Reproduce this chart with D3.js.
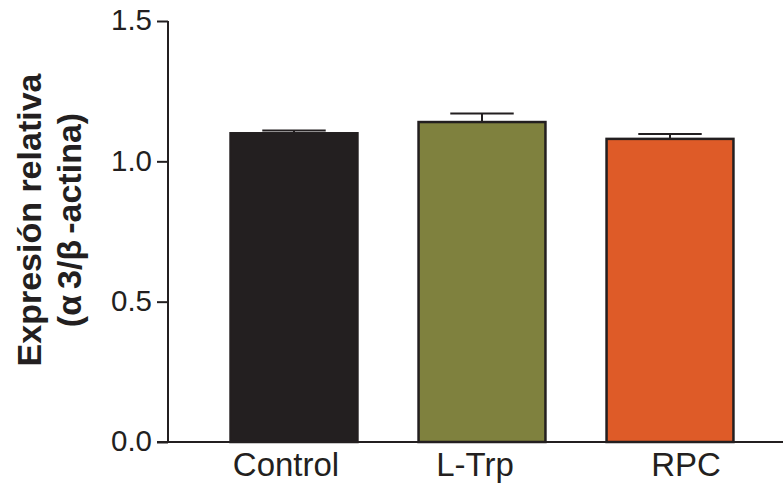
<!DOCTYPE html>
<html>
<head>
<meta charset="utf-8">
<script src="https://cdn.jsdelivr.net/npm/d3@7"></script>
<style>
  html, body { margin: 0; padding: 0; background: #fff; }
  svg { display: block; }
</style>
</head>
<body>
<svg id="chart" width="783" height="484"></svg>
<script>
const categories = ["Control", "L-Trp", "RPC"];
const means = [1.10, 1.14, 1.08];
const errors = [0.01, 0.03, 0.017];
const barColors = ["#231f20", "#7f813e", "#de5b28"];
const yTicks = [0.0, 0.5, 1.0, 1.5];
const yTickLabels = ["0.0", "0.5", "1.0", "1.5"];

const svg = d3.select("#chart");
const ink = "#231f20";
const font = "'Liberation Sans', Arial, Helvetica, sans-serif";

const y = d3.scaleLinear().domain([0, 1.5]).range([442, 21]);
const x = d3.scaleBand().domain(categories).range([200, 764])
  .paddingInner(0.325).paddingOuter(0.1625);

// y axis
const yAxis = d3.axisLeft(y).tickValues(yTicks)
  .tickFormat((d, i) => yTickLabels[i]).tickSize(11).tickPadding(5);
const gy = svg.append("g").attr("transform", "translate(168,0)").call(yAxis);
gy.select(".domain").remove();
gy.selectAll(".tick line").attr("stroke", ink).attr("stroke-width", 2);
gy.selectAll(".tick text").attr("fill", ink).style("font-family", font).style("font-size", "29.5px")
  .attr("dy", "0.30em");
gy.append("line").attr("x1", 0).attr("x2", 0).attr("y1", y(1.5)).attr("y2", y(0))
  .attr("stroke", ink).attr("stroke-width", 2);

// bars
const g = svg.append("g");
g.selectAll("rect.bar").data(categories).enter().append("rect")
  .attr("class", "bar")
  .attr("x", d => x(d))
  .attr("width", x.bandwidth())
  .attr("y", (d, i) => y(means[i]))
  .attr("height", (d, i) => y(0) - y(means[i]))
  .attr("fill", (d, i) => barColors[i])
  .attr("stroke", ink).attr("stroke-width", 2.5);

// error bars
categories.forEach((c, i) => {
  const cx = x(c) + x.bandwidth() / 2;
  const capW = x.bandwidth() / 2;
  g.append("line").attr("x1", cx).attr("x2", cx)
    .attr("y1", y(means[i])).attr("y2", y(means[i] + errors[i]))
    .attr("stroke", ink).attr("stroke-width", 2);
  g.append("line").attr("x1", cx - capW / 2).attr("x2", cx + capW / 2)
    .attr("y1", y(means[i] + errors[i])).attr("y2", y(means[i] + errors[i]))
    .attr("stroke", ink).attr("stroke-width", 2);
});

// x axis (labels slightly nudged as in the original figure)
const labelNudge = [-8, -7, 16];
const xAxis = d3.axisBottom(x).tickSize(0);
const gx = svg.append("g").attr("transform", `translate(0,${y(0)})`).call(xAxis);
gx.select(".domain").remove();
gx.selectAll(".tick text").attr("fill", ink).style("font-family", font).style("font-size", "33px")
  .attr("y", 34).attr("dy", 0)
  .attr("dx", (d, i) => labelNudge[i]);
svg.append("line").attr("x1", 157).attr("x2", 783).attr("y1", y(0)).attr("y2", y(0))
  .attr("stroke", ink).attr("stroke-width", 2);

// y title
const title = svg.append("text")
  .attr("transform", "translate(0,220) rotate(-90)")
  .attr("text-anchor", "middle")
  .attr("fill", ink)
  .style("font-family", font).style("font-weight", "bold").style("font-size", "34px");
title.append("tspan").attr("x", 0).attr("y", 41).text("Expresión relativa");
const line2 = title.append("tspan").attr("x", 0).attr("y", 81);
line2.append("tspan").text("(α");
line2.append("tspan").attr("dx", 6).text("3/β");
line2.append("tspan").attr("dx", 6).text("-actina)");
</script>
</body>
</html>
